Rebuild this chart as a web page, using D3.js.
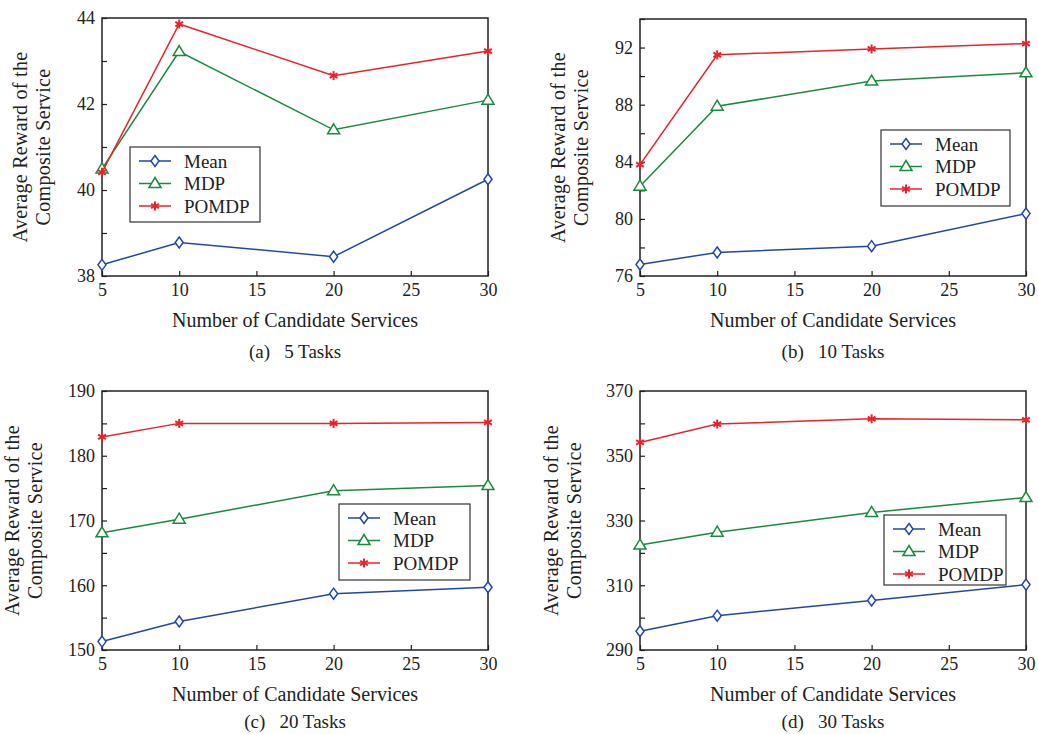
<!DOCTYPE html>
<html>
<head>
<meta charset="utf-8">
<script src="https://cdn.jsdelivr.net/npm/d3@7"></script>
<style>
  body { margin: 0; background: #fff; }
  svg text { font-family: "Liberation Serif", "Times New Roman", "DejaVu Serif", serif; fill: #222; }
</style>
</head>
<body>
<div id="chart"></div>
<script>
// Data
const xValues = [5, 10, 20, 30];
const xTicks = [5, 10, 15, 20, 25, 30];
const seriesNames = ["Mean", "MDP", "POMDP"];

const meanA = [38.26, 38.78, 38.45, 40.25];
const mdpA = [40.49, 43.22, 41.40, 42.09];
const pomdpA = [40.41, 43.86, 42.66, 43.23];

const meanB = [76.81, 77.65, 78.09, 80.37];
const mdpB = [82.29, 87.89, 89.65, 90.23];
const pomdpB = [83.8, 91.49, 91.9, 92.28];

const meanC = [151.3, 154.4, 158.7, 159.7];
const mdpC = [168.1, 170.2, 174.6, 175.4];
const pomdpC = [182.9, 185.0, 185.0, 185.15];

const meanD = [295.8, 300.6, 305.3, 310.2];
const mdpD = [322.4, 326.4, 332.5, 337.1];
const pomdpD = [354.1, 359.8, 361.4, 361.1];

const yDomains = [[38, 44], [76, 94], [150, 190], [290, 370]];
const yMajor = [[38, 40, 42, 44], [76, 80, 84, 88, 92], [150, 160, 170, 180, 190], [290, 310, 330, 350, 370]];
const yMinorStep = [1, 2, 5, 10];
const subtitles = ["(a)   5 Tasks", "(b)   10 Tasks", "(c)   20 Tasks", "(d)   30 Tasks"];

const colors = { Mean: "#2347a8", MDP: "#1c8a3e", POMDP: "#ec2229" };

// panel layout
const panels = [
  { box: [102, 18, 488, 276], ylab: 20, legend: [130, 147, 130, 75], sub: 82, data: [meanA, mdpA, pomdpA] },
  { box: [640, 19, 1026, 276], ylab: 558, legend: [881, 130, 129, 76], sub: 82, data: [meanB, mdpB, pomdpB] },
  { box: [102, 391, 488, 650], ylab: 12, legend: [339, 504, 131, 76], sub: 78, data: [meanC, mdpC, pomdpC] },
  { box: [640, 391, 1026, 650], ylab: 551, legend: [884, 515, 122, 70], sub: 78, data: [meanD, mdpD, pomdpD] }
];

const FONT = "'Liberation Serif', 'Times New Roman', 'DejaVu Serif', serif";

const svg = d3.select("#chart").append("svg")
  .attr("width", 1038).attr("height", 734);

function drawMarker(g, name, x, y) {
  const c = colors[name];
  if (name === "Mean") {
    g.append("path")
      .attr("d", `M${x},${y - 5.5}L${x + 4},${y}L${x},${y + 5.5}L${x - 4},${y}Z`)
      .attr("fill", "#fff").attr("stroke", c).attr("stroke-width", 1.5);
  } else if (name === "MDP") {
    g.append("path")
      .attr("d", `M${x},${y - 6}L${x + 6},${y + 4}L${x - 6},${y + 4}Z`)
      .attr("fill", "#fff").attr("stroke", c).attr("stroke-width", 1.5);
  } else {
    const r = 4.5;
    for (let k = 0; k < 3; k++) {
      const a = Math.PI / 2 + k * Math.PI / 3;
      g.append("line")
        .attr("x1", x + r * Math.cos(a)).attr("y1", y + r * Math.sin(a))
        .attr("x2", x - r * Math.cos(a)).attr("y2", y - r * Math.sin(a))
        .attr("stroke", c).attr("stroke-width", 2);
    }
  }
}

panels.forEach((p, i) => {
  const [x0, y0, x1, y1] = p.box;
  const g = svg.append("g");

  const x = d3.scaleLinear().domain([5, 30]).range([x0, x1]);
  const y = d3.scaleLinear().domain(yDomains[i]).range([y1, y0]);

  // minor ticks on the left
  const minor = d3.range(yDomains[i][0], yDomains[i][1] + 0.001, yMinorStep[i]);
  g.append("g").attr("transform", `translate(${x0},0)`)
    .call(d3.axisRight(y).tickValues(minor).tickSize(5).tickFormat(""))
    .call(a => a.select(".domain").remove())
    .selectAll("line").attr("stroke", "#222").attr("stroke-width", 1.2);

  // y labels
  g.append("g").attr("transform", `translate(${x0},0)`)
    .call(d3.axisLeft(y).tickValues(yMajor[i]).tickSize(0).tickPadding(7).tickFormat(d3.format("d")))
    .call(a => a.select(".domain").remove())
    .selectAll("text").style("font-size", "18px")
    .style("font-family", FONT).attr("fill", "#222");

  // x ticks inward + labels
  g.append("g").attr("transform", `translate(0,${y1})`)
    .call(d3.axisTop(x).tickValues(xTicks).tickSize(5).tickFormat(""))
    .call(a => a.select(".domain").remove())
    .selectAll("line").attr("stroke", "#222").attr("stroke-width", 1.2);
  g.append("g").attr("transform", `translate(0,${y1})`)
    .call(d3.axisBottom(x).tickValues(xTicks).tickSize(0).tickPadding(7).tickFormat(d3.format("d")))
    .call(a => a.select(".domain").remove())
    .selectAll("text").style("font-size", "18px")
    .style("font-family", FONT).attr("fill", "#222");

  // frame
  g.append("rect").attr("x", x0).attr("y", y0)
    .attr("width", x1 - x0).attr("height", y1 - y0)
    .attr("fill", "none").attr("stroke", "#222").attr("stroke-width", 1.5);

  // series
  const line = d3.line().x((d, j) => x(xValues[j])).y(d => y(d));
  seriesNames.forEach((name, s) => {
    g.append("path").datum(p.data[s])
      .attr("d", line).attr("fill", "none")
      .attr("stroke", colors[name]).attr("stroke-width", 1.5);
    p.data[s].forEach((v, j) => drawMarker(g, name, x(xValues[j]), y(v)));
  });

  // axis titles
  const cx = (x0 + x1) / 2;
  g.append("text").attr("x", cx).attr("y", y1 + 51)
    .attr("text-anchor", "middle").style("font-size", "20px").style("font-family", FONT)
    .text("Number of Candidate Services");
  g.append("text").attr("x", cx).attr("y", y1 + p.sub)
    .attr("text-anchor", "middle").style("font-size", "19px").style("font-family", FONT)
    .style("white-space", "pre").attr("xml:space", "preserve")
    .text(subtitles[i]);

  const cy = (y0 + y1) / 2;
  const yl = g.append("text")
    .attr("transform", `translate(${p.ylab},${cy}) rotate(-90)`)
    .attr("text-anchor", "middle").style("font-size", "20px").style("font-family", FONT)
    .style("letter-spacing", "0.3px");
  yl.append("tspan").attr("x", 0).attr("dy", "0.35em").text("Average Reward of the");
  yl.append("tspan").attr("x", 0).attr("dy", 23).text("Composite Service");

  // legend
  const [lx, ly, lw, lh] = p.legend;
  const lg = g.append("g");
  lg.append("rect").attr("x", lx).attr("y", ly).attr("width", lw).attr("height", lh)
    .attr("fill", "#fff").attr("stroke", "#333").attr("stroke-width", 1.2);
  seriesNames.forEach((name, s) => {
    const ry = ly + 14 + s * 22.5;
    lg.append("line").attr("x1", lx + 9).attr("x2", lx + 41)
      .attr("y1", ry).attr("y2", ry)
      .attr("stroke", colors[name]).attr("stroke-width", 1.5);
    drawMarker(lg, name, lx + 25, ry);
    lg.append("text").attr("x", lx + 54).attr("y", ry + 6.5)
      .style("font-size", "19px").style("font-family", FONT).text(name);
  });
});
</script>
</body>
</html>
